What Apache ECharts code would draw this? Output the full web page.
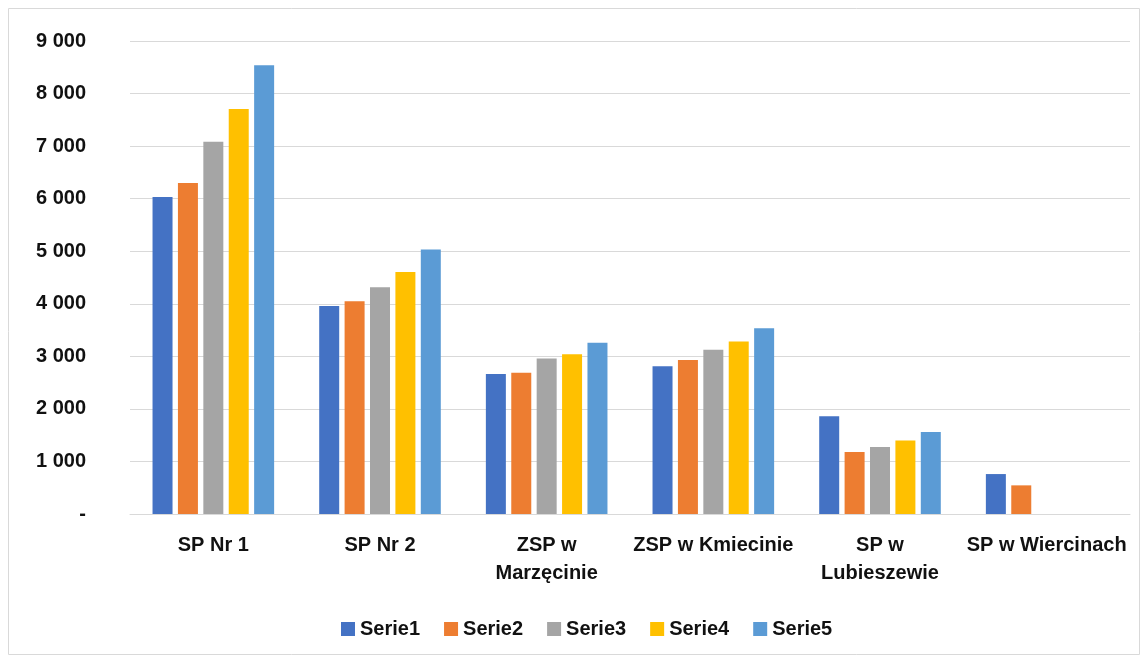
<!DOCTYPE html>
<html>
<head>
<meta charset="utf-8">
<script src="https://cdn.jsdelivr.net/npm/echarts@6/dist/echarts.min.js"></script>
<style>html,body{margin:0;padding:0;background:#fff}#c{width:1142px;height:660px}</style>
</head>
<body>
<div id="c"></div>
<script>
const categories = ["SP Nr 1", "SP Nr 2", "ZSP w\nMarzęcinie", "ZSP w Kmiecinie", "SP w\nLubieszewie", "SP w Wiercinach"];
const seriesNames = ["Serie1", "Serie2", "Serie3", "Serie4", "Serie5"];
const serie1 = [6030, 3960, 2665, 2810, 1860, 760];
const serie2 = [6300, 4050, 2690, 2930, 1180, 545];
const serie3 = [7085, 4315, 2960, 3125, 1275, null];
const serie4 = [7705, 4605, 3040, 3280, 1400, null];
const serie5 = [8540, 5035, 3260, 3535, 1560, null];
const yTicks = { min: 0, max: 9000, interval: 1000 };
const colors = ["#4472C4", "#ED7D31", "#A5A5A5", "#FFC000", "#5B9BD5"];

const font = "Liberation Sans";
const chart = echarts.init(document.getElementById('c'));
const allData = [serie1, serie2, serie3, serie4, serie5];
chart.setOption({
  animation: false,
  color: colors,
  graphic: [{
    type: 'rect', shape: { x: 8.5, y: 8.5, width: 1131, height: 646 },
    style: { fill: 'none', stroke: '#d9d9d9', lineWidth: 1 }, silent: true
  }],
  grid: { left: 130, right: 12, top: 41, bottom: 146 },
  legend: {
    top: 614, left: 336, itemWidth: 14, itemHeight: 14, itemGap: 24,
    icon: 'rect',
    textStyle: { fontFamily: font, fontWeight: 'bold', fontSize: 20, color: '#111' },
    data: seriesNames
  },
  xAxis: {
    type: 'category', data: categories,
    axisLine: { lineStyle: { color: '#d9d9d9', width: 1 } },
    axisTick: { show: false },
    axisLabel: { interval: 0, margin: 17, lineHeight: 28, fontFamily: font, fontWeight: 'bold', fontSize: 20, color: '#111' }
  },
  yAxis: {
    type: 'value', min: yTicks.min, max: yTicks.max, interval: yTicks.interval,
    axisLine: { show: false }, axisTick: { show: false },
    splitLine: { lineStyle: { color: '#d9d9d9', width: 1 } },
    axisLabel: {
      margin: 44, fontFamily: font, fontWeight: 'bold', fontSize: 20, color: '#111',
      formatter: v => v === 0 ? '-' : String(v).replace(/\B(?=(\d{3})+(?!\d))/g, ' ')
    }
  },
  series: seriesNames.map((n, i) => ({
    name: n, type: 'bar', data: allData[i], barWidth: 20, barGap: '27%',
    itemStyle: { color: colors[i] }
  }))
});
</script>
</body>
</html>
